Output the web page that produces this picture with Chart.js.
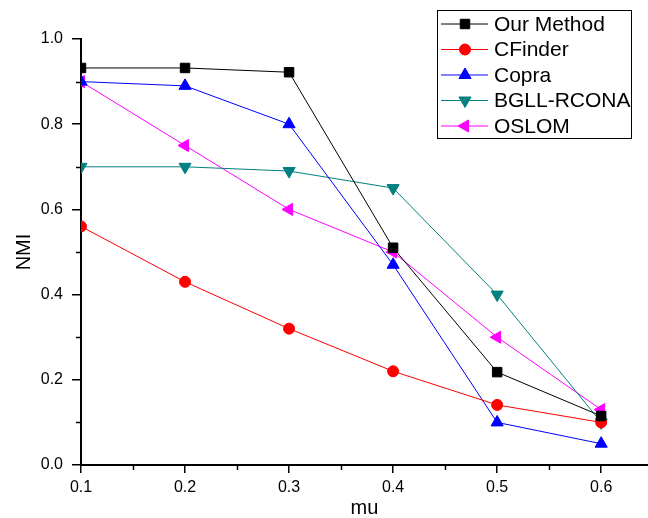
<!DOCTYPE html>
<html>
<head>
<meta charset="utf-8">
<script src="https://cdn.jsdelivr.net/npm/chart.js@4/dist/chart.umd.min.js"></script>
<style>
  html, body { margin: 0; padding: 0; background: #fff; }
  #wrap { width: 648px; height: 518px; }
</style>
</head>
<body>
<div id="wrap"><canvas id="nmiChart" width="648" height="518"></canvas></div>
<script>
// mu values on the x axis
const muValues = [0.1, 0.2, 0.3, 0.4, 0.5, 0.6];

// NMI per method
const ourMethod = [0.932, 0.932, 0.922, 0.51, 0.218, 0.115];
const cfinder = [0.56, 0.43, 0.32, 0.22, 0.141, 0.10];
const copra = [0.90, 0.89, 0.80, 0.47, 0.10, 0.05];
const bgllRcona = [0.70, 0.70, 0.69, 0.65, 0.40, 0.10];
const oslom = [0.90, 0.75, 0.60, 0.50, 0.30, 0.13];

const methodNames = ['Our Method', 'CFinder', 'Copra', 'BGLL-RCONA', 'OSLOM'];

// tick labels
const xTicks = [0.1, 0.2, 0.3, 0.4, 0.5, 0.6];
const yTicks = [0.0, 0.2, 0.4, 0.6, 0.8, 1.0];
const xMinorTicks = [0.15, 0.25, 0.35, 0.45, 0.55];
const yMinorTicks = [0.1, 0.3, 0.5, 0.7, 0.9];

const FONT = 'Arial, "Liberation Sans", sans-serif';

function toPoints(values) {
    return values.map((v, i) => ({ x: muValues[i], y: v }));
}

function makeDataset(label, values, color, style, rotation, radius) {
    return {
        label: label,
        data: toPoints(values),
        borderColor: color,
        backgroundColor: color,
        borderWidth: 1,
        pointStyle: style,
        rotation: rotation,
        pointRadius: radius,
        pointHoverRadius: radius,
        pointBorderWidth: 1,
        pointBorderColor: color,
        pointBackgroundColor: color,
        tension: 0
    };
}

// Small ticks between the labelled ones
const minorTicksPlugin = {
    id: 'minorTicks',
    afterDraw(chart) {
        const ctx = chart.ctx;
        const xs = chart.scales.x;
        const ys = chart.scales.y;
        const area = chart.chartArea;
        ctx.save();
        ctx.strokeStyle = '#000';
        ctx.lineWidth = 1.5;
        ctx.beginPath();
        xMinorTicks.forEach(v => {
            const px = Math.round(xs.getPixelForValue(v)) + 0.5;
            ctx.moveTo(px, area.bottom);
            ctx.lineTo(px, area.bottom + 5);
        });
        yMinorTicks.forEach(v => {
            const py = Math.round(ys.getPixelForValue(v)) + 0.5;
            ctx.moveTo(area.left - 5, py);
            ctx.lineTo(area.left, py);
        });
        ctx.stroke();
        ctx.restore();
    }
};

// Boxed legend with line + marker samples, top right
const boxLegendPlugin = {
    id: 'boxLegend',
    afterDraw(chart) {
        const ctx = chart.ctx;
        const left = 437, top = 10, width = 194, height = 128;
        const rowY = [24, 49.5, 75, 100.5, 126];
        ctx.save();
        ctx.fillStyle = '#fff';
        ctx.fillRect(left, top, width, height);
        ctx.strokeStyle = '#000';
        ctx.lineWidth = 1;
        ctx.strokeRect(left + 0.5, top + 0.5, width, height);
        chart.data.datasets.forEach((ds, i) => {
            const y = rowY[i];
            ctx.strokeStyle = ds.borderColor;
            ctx.lineWidth = 1;
            ctx.beginPath();
            ctx.moveTo(441, y);
            ctx.lineTo(488, y);
            ctx.stroke();
            ctx.fillStyle = ds.backgroundColor;
            Chart.helpers.drawPoint(ctx, {
                pointStyle: ds.pointStyle,
                rotation: ds.rotation,
                radius: ds.pointRadius,
                borderWidth: 1
            }, 465, y);
            ctx.fillStyle = '#000';
            ctx.font = '21px ' + FONT;
            ctx.textBaseline = 'middle';
            ctx.textAlign = 'left';
            ctx.fillText(ds.label, 494, y + 1);
        });
        ctx.restore();
    }
};

const bgPlugin = {
    id: 'whiteBg',
    beforeDraw(chart) {
        const ctx = chart.ctx;
        ctx.save();
        ctx.fillStyle = '#fff';
        ctx.fillRect(0, 0, chart.width, chart.height);
        ctx.restore();
    }
};

const ctx = document.getElementById('nmiChart').getContext('2d');
new Chart(ctx, {
    type: 'line',
    data: {
        datasets: [
            makeDataset(methodNames[0], ourMethod, '#000000', 'rect', 0, 6.7),
            makeDataset(methodNames[1], cfinder, '#ff0000', 'circle', 0, 5.5),
            makeDataset(methodNames[2], copra, '#0000ff', 'triangle', 0, 7),
            makeDataset(methodNames[3], bgllRcona, '#008080', 'triangle', 180, 7),
            makeDataset(methodNames[4], oslom, '#ff00ff', 'triangle', -90, 7)
        ]
    },
    options: {
        responsive: false,
        animation: false,
        layout: { autoPadding: false, padding: { top: 39, right: 0, bottom: 0, left: 0 } },
        plugins: {
            legend: { display: false },
            tooltip: { enabled: false }
        },
        scales: {
            x: {
                type: 'linear',
                min: 0.1,
                max: 0.645,
                afterFit: scale => {
                    scale.height = 53;
                    scale.paddingLeft = 0;
                    scale.paddingRight = 0;
                },
                afterBuildTicks: scale => { scale.ticks = xTicks.map(v => ({ value: v })); },
                border: { display: true, color: '#000', width: 2 },
                grid: { drawOnChartArea: false, drawTicks: true, tickLength: 8, color: '#000', lineWidth: 1.5 },
                ticks: {
                    color: '#000',
                    padding: 5,
                    maxRotation: 0,
                    font: { family: FONT, size: 16 },
                    callback: v => v.toFixed(1)
                },
                title: {
                    display: true,
                    text: 'mu',
                    color: '#000',
                    font: { family: FONT, size: 20, lineHeight: 1 },
                    padding: { top: 0, bottom: 0 }
                }
            },
            y: {
                min: 0,
                max: 1,
                afterFit: scale => {
                    scale.width = 81;
                    scale.paddingTop = 0;
                    scale.paddingBottom = 0;
                },
                afterBuildTicks: scale => { scale.ticks = yTicks.map(v => ({ value: v })); },
                border: { display: true, color: '#000', width: 2 },
                grid: { drawOnChartArea: false, drawTicks: true, tickLength: 9, color: '#000', lineWidth: 1.5 },
                ticks: {
                    color: '#000',
                    padding: 9,
                    font: { family: FONT, size: 16 },
                    callback: v => v.toFixed(1)
                },
                title: {
                    display: true,
                    text: 'NMI',
                    color: '#000',
                    font: { family: FONT, size: 20, lineHeight: 1 },
                    padding: { top: 14, bottom: 0 }
                }
            }
        }
    },
    plugins: [bgPlugin, minorTicksPlugin, boxLegendPlugin]
});
</script>
</body>
</html>
